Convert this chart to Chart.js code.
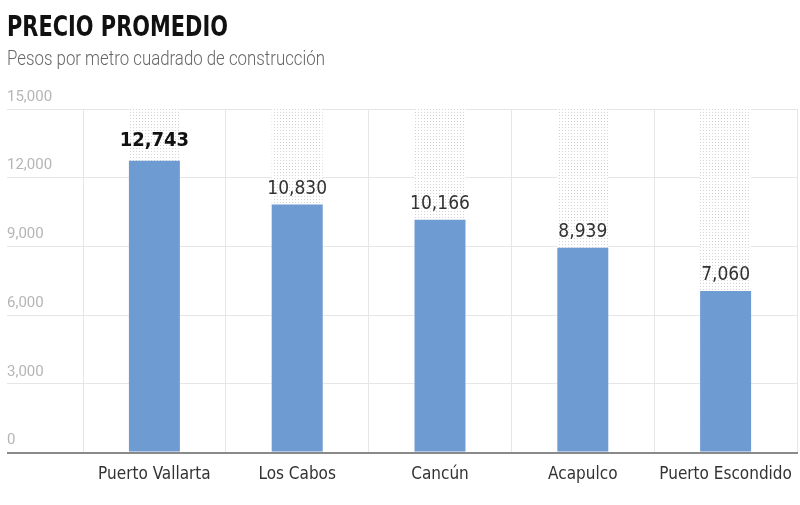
<!DOCTYPE html>
<html>
<head>
<meta charset="utf-8">
<script src="https://cdn.jsdelivr.net/npm/chart.js@4.4.1/dist/chart.umd.min.js"></script>
<style>
  html, body { margin: 0; padding: 0; background: #fff; }
  #wrap { position: relative; width: 800px; height: 505px; }
  #chart { position: absolute; left: 0; top: 0; }
  .head { position: absolute; left: 7px; white-space: nowrap; transform-origin: 0 0; line-height: 1; }
  #title { top: 9px; font: bold 29px "DejaVu Sans Condensed", "DejaVu Sans", sans-serif; color: #111; }
  #subtitle { top: 46px; font: 300 20px Roboto, "DejaVu Sans", sans-serif; color: #666; }
</style>
</head>
<body>
<div id="wrap">
  <canvas id="chart" width="800" height="505"></canvas>
  <div class="head" id="title">PRECIO PROMEDIO</div>
  <div class="head" id="subtitle">Pesos por metro cuadrado de construcción</div>
</div>
<script>
// data
const cities = ['Puerto Vallarta', 'Los Cabos', 'Cancún', 'Acapulco', 'Puerto Escondido'];
const prices = [12743, 10830, 10166, 8939, 7060];
const yTickLabels = ['0', '3,000', '6,000', '9,000', '12,000', '15,000'];
const yMax = 15000;
const yStep = 3000;

const NARROW = '"DejaVu Sans Condensed", "DejaVu Sans", sans-serif';

// squeeze the headings to the condensed width of the original
function fitWidth(id, target) {
    const el = document.getElementById(id);
    const w = el.getBoundingClientRect().width;
    el.style.transform = 'scaleX(' + (target / w) + ')';
}
fitWidth('title', 221);
fitWidth('subtitle', 318);

// light dotted fill for the empty part of each column
function dotPattern(ctx) {
    const c = document.createElement('canvas');
    c.width = 3; c.height = 3;
    const p = c.getContext('2d');
    p.fillStyle = '#ffffff';
    p.fillRect(0, 0, 3, 3);
    p.fillStyle = '#d4d4d4';
    p.fillRect(1, 1, 1, 1);
    return ctx.createPattern(c, 'repeat');
}

// numbers above the bars (the first one in bold)
const valueLabels = {
    id: 'valueLabels',
    afterDatasetsDraw(chart) {
        const ctx = chart.ctx;
        const meta = chart.getDatasetMeta(1);
        ctx.save();
        ctx.textAlign = 'center';
        ctx.textBaseline = 'alphabetic';
        meta.data.forEach((bar, i) => {
            const first = i === 0;
            ctx.font = (first ? 'bold 20px ' : '19px ') + NARROW;
            ctx.fillStyle = first ? '#111111' : '#333333';
            ctx.fillText(prices[i].toLocaleString('en-US'), bar.x, bar.y - (first ? 15 : 11));
        });
        ctx.restore();
    }
};

const ctx = document.getElementById('chart').getContext('2d');

new Chart(ctx, {
    type: 'bar',
    data: {
        labels: cities,
        datasets: [
            {
                label: 'fondo',
                data: cities.map(() => yMax),
                backgroundColor: dotPattern(ctx),
                grouped: false,
                order: 2
            },
            {
                label: 'Precio',
                data: prices,
                backgroundColor: '#6f9bd3',
                grouped: false,
                order: 1
            }
        ]
    },
    options: {
        responsive: false,
        animation: false,
        events: [],
        barPercentage: 0.357,
        categoryPercentage: 1,
        layout: { padding: { left: 7, right: 3, top: 109, bottom: 8 } },
        plugins: {
            legend: { display: false },
            tooltip: { enabled: false }
        },
        scales: {
            x: {
                afterFit(scale) { scale.paddingLeft = 0; scale.paddingRight = 0; },
                grid: { color: '#e6e6e6', drawTicks: false, offset: true },
                border: { color: '#8a8a8a', width: 2 },
                ticks: {
                    color: '#333333',
                    padding: 12,
                    maxRotation: 0,
                    autoSkip: false,
                    font: { family: NARROW, size: 17 }
                }
            },
            y: {
                min: 0,
                max: yMax,
                afterFit(scale) { scale.width = 76; },
                grid: {
                    color: c => c.tick && c.tick.value === 0 ? '#8a8a8a' : '#e6e6e6',
                    lineWidth: c => c.tick && c.tick.value === 0 ? 2 : 1,
                    tickLength: 76
                },
                border: { display: false },
                ticks: {
                    stepSize: yStep,
                    crossAlign: 'far',
                    labelOffset: -12,
                    padding: 0,
                    color: '#b5b5b5',
                    font: { family: 'Roboto, sans-serif', size: 15 },
                    callback: (v, i) => yTickLabels[i]
                }
            }
        }
    },
    plugins: [valueLabels]
});
</script>
</body>
</html>
